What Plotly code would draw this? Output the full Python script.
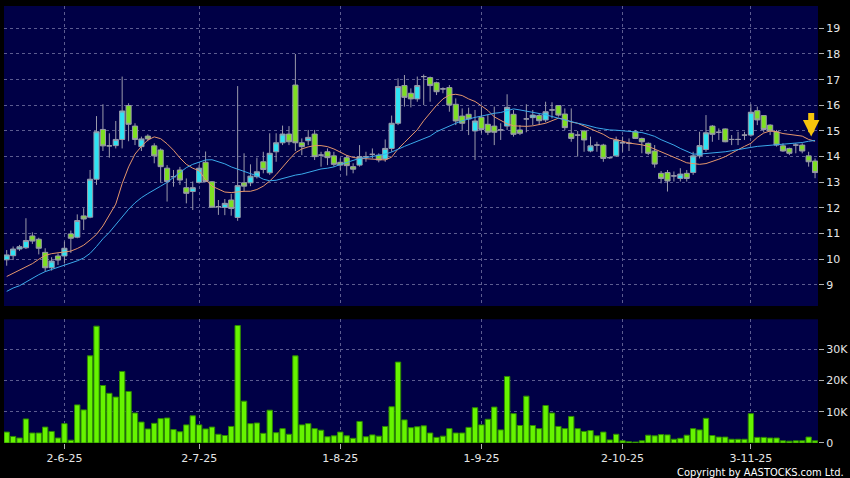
import plotly.graph_objects as go

# ---------------- data ----------------
tick_labels = ["2-6-25", "2-7-25", "1-8-25", "1-9-25", "2-10-25", "3-11-25"]
tick_bars = [9, 30, 52, 74, 96, 116]

open_ = [9.98, 10.14, 10.40, 10.45, 10.91, 10.78, 10.27, 9.67, 10.13, 10.13,
         10.99, 10.86, 11.69, 11.64, 13.12, 15.06, 14.42, 14.43, 14.67, 15.99,
         15.19, 14.39, 14.80, 14.42, 14.26, 13.55, 13.22, 13.48, 12.79, 12.64,
         13.00, 13.78, 13.02, 12.05, 12.02, 12.31, 11.63, 12.98, 12.98, 13.22,
         13.80, 13.37, 14.19, 14.54, 14.88, 16.79, 14.54, 14.62, 14.88, 14.06,
         14.19, 14.03, 13.78, 13.96, 13.61, 13.67, 14.00, 14.09, 14.06, 13.91,
         14.32, 15.30, 16.77, 16.47, 16.25, 17.12, 17.08, 16.88, 16.64, 16.69,
         16.04, 15.58, 15.65, 15.00, 15.53, 15.26, 15.19, 15.04, 15.19, 15.65,
         15.04, 15.47, 15.52, 15.60, 15.43, 15.82, 15.99, 15.66, 14.91, 14.84,
         15.00, 14.22, 14.45, 14.45, 13.96, 14.03, 14.54, 14.52, 14.97, 14.71,
         14.52, 14.22, 13.35, 13.38, 13.25, 13.15, 13.35, 13.38, 14.03, 14.28,
         15.19, 14.95, 15.08, 14.67, 14.67, 14.84, 14.84, 15.79, 15.60, 15.23,
         14.97, 14.42, 14.32, 14.45, 14.45, 14.03, 13.83]
high = [10.36, 10.50, 10.56, 11.60, 11.05, 10.84, 10.43, 10.08, 10.23, 10.69,
        11.12, 11.75, 11.99, 13.48, 15.58, 16.04, 14.91, 15.39, 17.12, 16.08,
        15.30, 14.78, 14.87, 14.52, 14.32, 13.67, 13.48, 13.60, 13.15, 13.03,
        13.68, 14.20, 13.05, 12.31, 12.35, 12.55, 16.75, 14.13, 13.70, 13.96,
        14.19, 14.91, 14.91, 15.21, 15.19, 18.00, 14.71, 15.04, 15.04, 14.19,
        14.32, 14.19, 13.93, 14.06, 13.74, 14.45, 14.19, 14.32, 14.13, 14.67,
        15.60, 17.05, 17.18, 16.66, 17.12, 17.20, 17.12, 16.92, 16.70, 16.79,
        16.27, 15.88, 15.91, 15.82, 15.95, 15.62, 15.95, 15.30, 16.43, 15.82,
        15.23, 16.04, 15.82, 15.69, 16.14, 16.12, 16.01, 15.88, 15.88, 15.00,
        15.04, 14.78, 14.58, 14.50, 14.00, 14.78, 14.78, 14.71, 15.04, 14.74,
        14.55, 14.45, 13.44, 13.48, 13.42, 13.55, 13.48, 14.19, 14.97, 15.62,
        15.23, 15.10, 15.10, 14.84, 14.97, 14.97, 16.04, 15.95, 15.62, 15.26,
        15.04, 14.52, 14.35, 14.52, 14.52, 14.19, 13.93]
low = [9.75, 9.97, 10.33, 10.40, 10.60, 10.19, 9.52, 9.56, 9.78, 9.84,
       10.25, 10.82, 11.14, 11.60, 12.90, 14.22, 13.96, 14.32, 14.32, 14.60,
       14.45, 14.22, 14.60, 13.74, 13.00, 12.25, 12.83, 12.90, 12.18, 11.92,
       12.95, 13.00, 12.00, 11.73, 11.72, 11.70, 11.50, 12.63, 12.85, 13.15,
       13.35, 13.29, 13.80, 14.45, 14.45, 14.22, 14.06, 14.45, 13.87, 13.61,
       13.67, 13.61, 13.48, 13.26, 13.35, 13.61, 13.80, 13.93, 13.78, 13.80,
       14.19, 15.23, 15.95, 15.92, 16.14, 16.01, 16.14, 16.40, 16.47, 15.75,
       15.23, 15.04, 14.84, 13.87, 14.91, 14.84, 14.45, 14.65, 15.04, 14.78,
       14.84, 14.95, 15.23, 15.23, 15.34, 15.49, 15.56, 15.04, 14.58, 14.00,
       14.19, 14.17, 14.19, 13.80, 13.91, 14.00, 14.19, 14.22, 14.69, 14.13,
       14.06, 13.57, 12.96, 12.64, 13.03, 13.03, 13.03, 13.29, 13.93, 14.19,
       14.58, 14.65, 14.56, 14.45, 14.45, 14.65, 14.78, 15.23, 14.95, 14.84,
       14.39, 14.19, 14.06, 14.13, 14.13, 13.61, 13.16]
close = [10.17, 10.40, 10.49, 10.73, 10.71, 10.43, 9.67, 9.93, 9.97, 10.43,
         10.82, 11.51, 11.57, 13.12, 14.97, 14.42, 14.42, 14.67, 15.78, 15.26,
         14.67, 14.69, 14.69, 14.03, 13.61, 13.03, 13.22, 13.09, 12.57, 12.79,
         13.55, 13.03, 12.03, 12.05, 12.18, 11.98, 12.87, 12.85, 13.24, 13.41,
         13.50, 14.13, 14.54, 14.88, 14.58, 14.54, 14.39, 14.75, 14.00, 14.06,
         13.96, 13.70, 13.67, 13.65, 13.51, 14.00, 14.00, 14.09, 13.87, 14.32,
         15.30, 16.73, 16.31, 16.25, 16.77, 17.12, 16.77, 16.53, 16.64, 16.01,
         15.39, 15.30, 15.47, 15.39, 15.06, 14.95, 14.95, 15.04, 15.92, 14.87,
         14.91, 15.47, 15.62, 15.40, 15.75, 15.82, 15.62, 15.13, 14.71, 14.84,
         14.65, 14.42, 14.45, 13.93, 13.96, 14.65, 14.54, 14.52, 14.71, 14.58,
         14.13, 13.71, 13.15, 13.05, 13.25, 13.32, 13.15, 14.03, 14.43, 14.93,
         14.87, 14.95, 14.58, 14.67, 14.67, 14.84, 15.73, 15.43, 15.06, 15.00,
         14.45, 14.22, 14.13, 14.45, 14.22, 13.80, 13.38]
volume_k = [3.5, 2.1, 1.6, 7.7, 3.2, 3.2, 5.1, 3.7, 1.6, 6.2,
            0.9, 12.2, 10.6, 27.9, 37.4, 18.4, 15.9, 14.7, 22.9, 16.5,
            9.6, 6.7, 4.5, 6.3, 7.8, 8.0, 4.3, 3.6, 5.8, 8.7,
            5.8, 4.5, 5.1, 2.8, 2.4, 5.3, 37.6, 13.4, 6.2, 6.4,
            3.1, 10.5, 3.3, 4.6, 2.8, 27.9, 5.8, 6.2, 4.6, 4.1,
            2.0, 2.3, 3.5, 2.3, 1.5, 6.9, 2.0, 2.6, 2.2, 5.3,
            11.6, 25.9, 7.4, 4.9, 5.2, 5.5, 3.2, 1.8, 2.2, 4.6,
            3.2, 3.2, 5.0, 11.3, 5.8, 7.6, 11.5, 4.2, 21.3, 9.4,
            5.6, 15.0, 5.6, 4.6, 12.0, 9.6, 5.3, 4.6, 8.5, 4.6,
            3.7, 4.0, 2.3, 3.5, 1.0, 2.8, 0.7, 0.4, 0.3, 0.7,
            2.5, 2.3, 2.7, 2.6, 1.2, 1.5, 2.5, 4.6, 4.2, 7.9,
            2.4, 1.9, 1.9, 1.2, 1.2, 1.2, 9.4, 1.8, 1.8, 1.6,
            1.6, 0.7, 0.6, 0.7, 0.7, 1.9, 0.7]
ma10 = [9.33, 9.45, 9.58, 9.71, 9.83, 10.00, 10.15, 10.22, 10.25, 10.27,
        10.32, 10.42, 10.55, 10.75, 10.97, 11.30, 11.70, 12.15, 12.95, 13.60,
        14.10, 14.40, 14.65, 14.77, 14.70, 14.50, 14.25, 13.95, 13.70, 13.55,
        13.45, 13.10, 12.85, 12.72, 12.62, 12.60, 12.63, 12.65, 12.65, 12.72,
        12.85, 13.05, 13.30, 13.60, 13.88, 14.15, 14.30, 14.38, 14.43, 14.43,
        14.39, 14.30, 14.17, 14.05, 13.97, 13.93, 13.92, 13.90, 13.88, 13.87,
        13.98, 14.30, 14.55, 14.80, 15.05, 15.40, 15.72, 16.00, 16.25, 16.40,
        16.43, 16.38, 16.25, 16.15, 15.98, 15.80, 15.55, 15.40, 15.28, 15.20,
        15.18, 15.18, 15.20, 15.25, 15.30, 15.40, 15.50, 15.45, 15.35, 15.30,
        15.20, 15.08, 14.97, 14.87, 14.72, 14.67, 14.60, 14.53, 14.50, 14.46,
        14.40, 14.30, 14.20, 14.10, 14.00, 13.87, 13.76, 13.72, 13.70, 13.73,
        13.80, 13.90, 14.00, 14.12, 14.27, 14.40, 14.52, 14.75, 14.92, 15.00,
        14.97, 14.90, 14.87, 14.84, 14.80, 14.67, 14.60]
ma20 = [8.75, 8.88, 8.97, 9.12, 9.25, 9.40, 9.52, 9.60, 9.67, 9.75,
        9.86, 9.94, 10.05, 10.23, 10.50, 10.80, 11.05, 11.35, 11.65, 11.95,
        12.20, 12.40, 12.56, 12.72, 12.85, 13.00, 13.18, 13.38, 13.57, 13.70,
        13.80, 13.87, 13.88, 13.80, 13.72, 13.60, 13.52, 13.44, 13.35, 13.25,
        13.12, 13.06, 13.08, 13.15, 13.22, 13.28, 13.32, 13.38, 13.45, 13.52,
        13.55, 13.60, 13.70, 13.78, 13.86, 13.93, 13.96, 14.00, 14.05, 14.10,
        14.18, 14.30, 14.40, 14.50, 14.60, 14.70, 14.80, 14.97, 15.08, 15.22,
        15.30, 15.40, 15.48, 15.53, 15.58, 15.64, 15.69, 15.72, 15.80, 15.86,
        15.82, 15.78, 15.72, 15.68, 15.63, 15.56, 15.50, 15.42, 15.34, 15.30,
        15.25, 15.18, 15.12, 15.08, 15.04, 15.03, 15.01, 15.00, 14.97, 14.94,
        14.87, 14.79, 14.66, 14.56, 14.45, 14.32, 14.20, 14.10, 14.10, 14.12,
        14.14, 14.16, 14.19, 14.23, 14.28, 14.33, 14.36, 14.40, 14.42, 14.44,
        14.45, 14.47, 14.49, 14.52, 14.55, 14.60, 14.63]

bars = list(range(len(close)))
volume = [v * 1000 for v in volume_k]

# ---------------- styling ----------------
NAVY = "#000046"
GRID = "#5c5c90"
TXT = "#e6e6e6"
FONT = "DejaVu Sans"

fig = go.Figure()
fig.add_trace(go.Candlestick(
    x=bars, open=open_, high=high, low=low, close=close,
    increasing=dict(fillcolor="#2ee3f3", line=dict(color="#9a9aaa", width=1)),
    decreasing=dict(fillcolor="#7ddf22", line=dict(color="#9a9aaa", width=1)),
    whiskerwidth=0, showlegend=False, hoverinfo="skip",
    xaxis="x", yaxis="y"))
fig.add_trace(go.Scatter(x=bars, y=ma10, mode="lines",
                         line=dict(color="#e5966c", width=1),
                         showlegend=False, hoverinfo="skip", xaxis="x", yaxis="y"))
fig.add_trace(go.Scatter(x=bars, y=ma20, mode="lines",
                         line=dict(color="#3ba9ea", width=1),
                         showlegend=False, hoverinfo="skip", xaxis="x", yaxis="y"))
fig.add_trace(go.Bar(x=bars, y=volume,
                     marker=dict(color="#66f400", line=dict(color="#2d8a00", width=1)),
                     showlegend=False, hoverinfo="skip", xaxis="x2", yaxis="y2"))

axis_common = dict(showgrid=True, gridcolor=GRID, griddash="3px,3px", gridwidth=1,
                   zeroline=False, showline=False, automargin=False)

fig.update_layout(
    width=850, height=478,
    margin=dict(l=4, r=32, t=6, b=35, autoexpand=False),
    paper_bgcolor="black", plot_bgcolor=NAVY,
    showlegend=False, bargap=0.17, boxgap=0.2, boxgroupgap=0,
    xaxis=dict(domain=[0, 1], range=[-0.42, 126.46], anchor="y",
               tickvals=tick_bars, showticklabels=False, ticks="",
               rangeslider=dict(visible=False), **axis_common),
    xaxis2=dict(domain=[0, 1], matches="x", anchor="y2",
                tickvals=tick_bars, ticktext=tick_labels,
                ticks="outside", ticklen=5, tickcolor="#b0b0b0",
                tickfont=dict(family=FONT, size=11, color=TXT), **axis_common),
    yaxis=dict(domain=[0.3135, 1], range=[8.18, 19.87], side="right", anchor="x",
               tickvals=list(range(9, 20)), ticks="outside", ticklen=5,
               tickcolor="#b0b0b0",
               tickfont=dict(family=FONT, size=11, color=TXT), **axis_common),
    yaxis2=dict(domain=[0, 0.2831], range=[0, 39600], side="right", anchor="x2",
                tickvals=[0, 10000, 20000, 30000],
                ticktext=["0", "10K", "20K", "30K"],
                ticks="outside", ticklen=5, tickcolor="#b0b0b0",
                tickfont=dict(family=FONT, size=11, color=TXT), **axis_common),
)

# latest-price arrow
fig.add_annotation(x=125.4, y=14.78, xref="x", yref="y", text="",
                   showarrow=True, ax=0, ay=-25, arrowhead=2, arrowsize=0.55,
                   arrowwidth=6, arrowcolor="#f6c40c", standoff=0)

# copyright
fig.add_annotation(x=1, y=0, xref="paper", yref="paper", xanchor="right",
                   yanchor="top", xshift=28, yshift=-21, showarrow=False,
                   text="Copyright by AASTOCKS.com Ltd.",
                   font=dict(family="DejaVu Sans Condensed, Liberation Sans Narrow, Liberation Sans",
                             size=11, color="white"))

fig.write_html("out.html", config={"displayModeBar": False},
               post_script="document.body.style.margin='0';document.body.style.padding='0';")
